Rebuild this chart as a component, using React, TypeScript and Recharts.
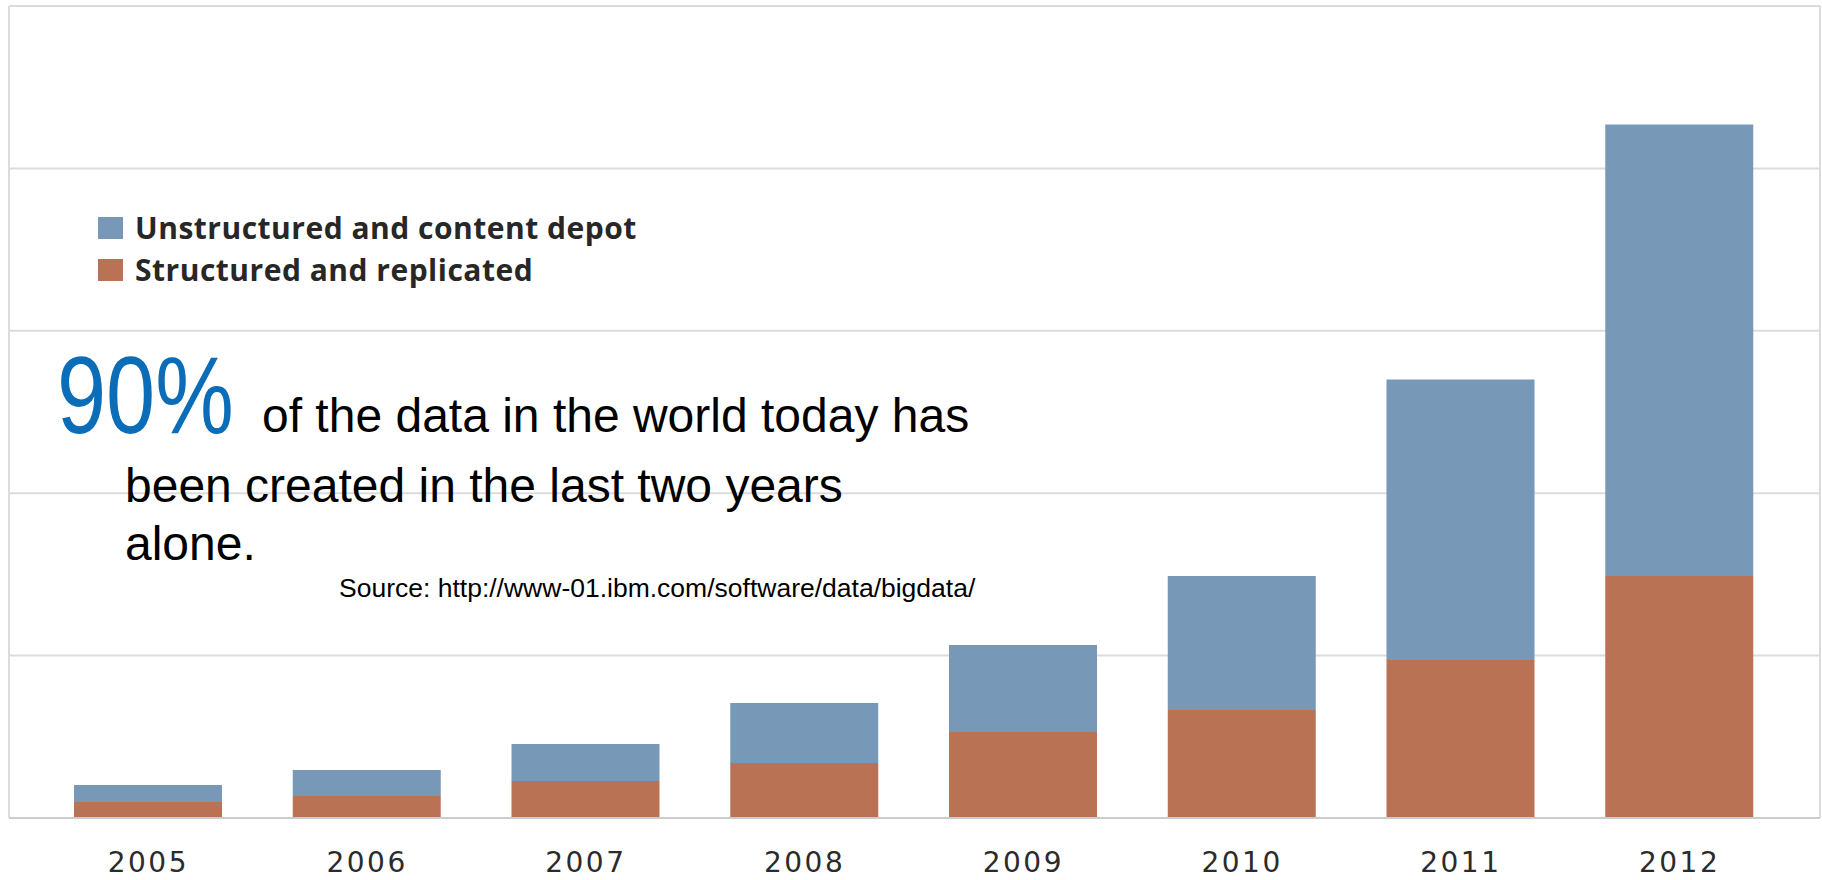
import { BarChart, Bar, XAxis, YAxis, CartesianGrid, Legend } from "recharts";

const years = ["2005", "2006", "2007", "2008", "2009", "2010", "2011", "2012"];
const structured = [99, 135, 228, 339, 530, 665, 973, 1490];
const unstructured = [104, 161, 228, 369, 535, 825, 1727, 2780];
const yTicks = [0, 1000, 2000, 3000, 4000, 5000];

const BLUE = "#7799b7";
const ORANGE = "#b97354";

const data = years.map((year, i) => ({
  year,
  structured: structured[i],
  unstructured: unstructured[i],
}));

function LegendBox({ payload }: any) {
  const items = [...(payload || [])].reverse();
  return (
    <div>
      {items.map((item: any) => (
        <div
          key={item.value}
          style={{ display: "flex", alignItems: "center", height: 42 }}
        >
          <div
            style={{ width: 25, height: 22, background: item.color, marginRight: 12 }}
          />
          <span
            style={{
              fontFamily: "'Open Sans', sans-serif",
              fontWeight: 700,
              fontSize: 30,
              letterSpacing: 0.5,
              lineHeight: "42px",
              color: "#272727",
              whiteSpace: "nowrap",
            }}
          >
            {item.value}
          </span>
        </div>
      ))}
    </div>
  );
}

export default function App() {
  return (
    <div style={{ position: "absolute", left: 0, top: 0, width: 1822, height: 880, background: "#fff" }}>
      <BarChart
        width={1822}
        height={880}
        data={data}
        margin={{ top: 6, right: 2, bottom: 0, left: 9 }}
      >
        <CartesianGrid
          stroke="#dcdcdc"
          strokeWidth={2}
          verticalCoordinatesGenerator={({ offset }: any) => [
            offset.left,
            offset.left + offset.width,
          ]}
        />
        <XAxis
          dataKey="year"
          height={62}
          tickSize={0}
          tickMargin={34}
          padding={{ left: 30, right: 31 }}
          axisLine={{ stroke: "#cccccc", strokeWidth: 2 }}
          tick={{
            fill: "#2b2b2b",
            fontSize: 28,
            fontFamily: "'DejaVu Sans', sans-serif",
            letterSpacing: 2.5,
          }}
        />
        <YAxis hide domain={[0, 5000]} ticks={yTicks} />
        <Legend
          layout="horizontal"
          verticalAlign="middle"
          align="center"
          content={<LegendBox />}
          wrapperStyle={{ position: "absolute", left: 98, top: 207, width: "auto" }}
        />
        <Bar
          dataKey="structured"
          name="Structured and replicated"
          stackId="a"
          fill={ORANGE}
          barSize={148}
          isAnimationActive={false}
        />
        <Bar
          dataKey="unstructured"
          name="Unstructured and content depot"
          stackId="a"
          fill={BLUE}
          barSize={148}
          isAnimationActive={false}
        />
      </BarChart>
      <svg
        width={1822}
        height={880}
        style={{ position: "absolute", left: 0, top: 0, pointerEvents: "none" }}
      >
        <g fontFamily="'Liberation Sans', Arial, sans-serif">
          <text transform="translate(57,433) scale(0.81,1)" fontSize={109} fill="#0b6cb7">
            90%
          </text>
          <text x={262} y={432} fontSize={48} fill="#000">
            of the data in the world today has
          </text>
          <text x={125} y={502} fontSize={48} fill="#000">
            been created in the last two years
          </text>
          <text x={125} y={560} fontSize={48} fill="#000">
            alone.
          </text>
          <text x={339} y={597} fontSize={26.5} fill="#000">
            Source: http://www-01.ibm.com/software/data/bigdata/
          </text>
        </g>
      </svg>
    </div>
  );
}
